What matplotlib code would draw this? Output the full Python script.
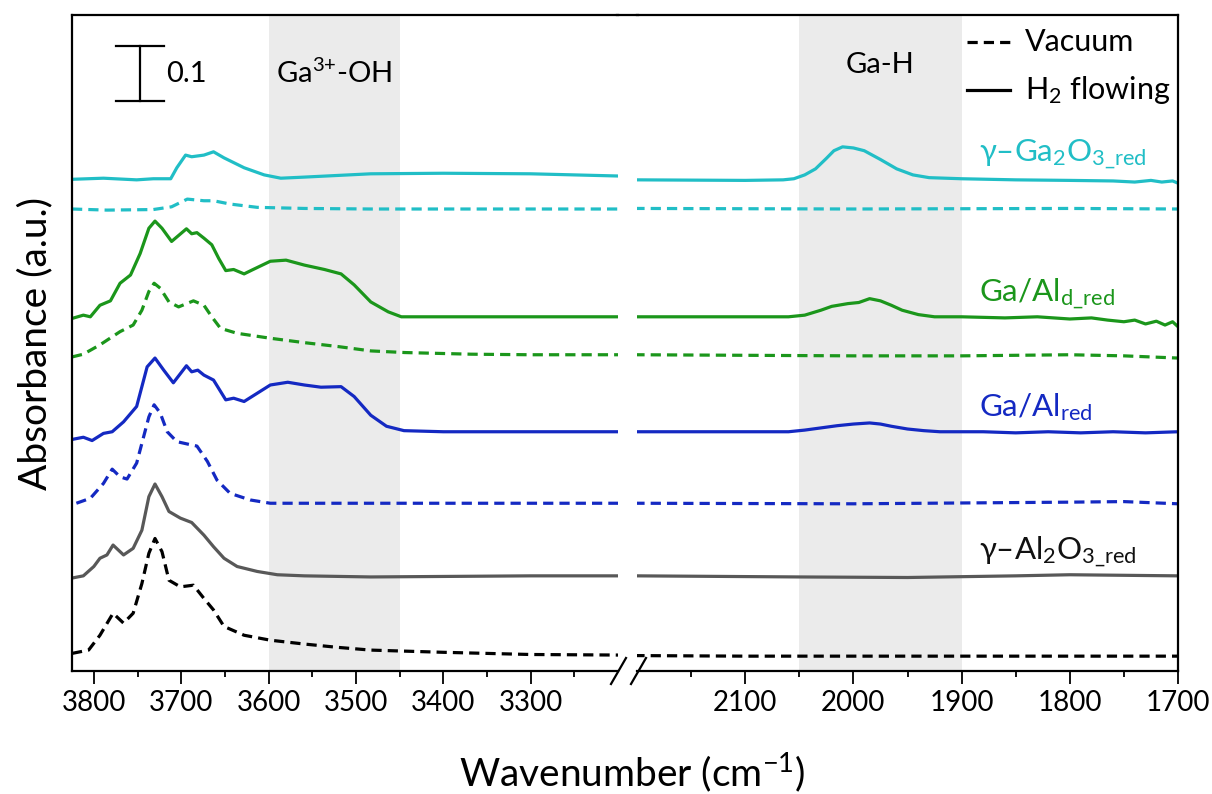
import matplotlib
matplotlib.use("Agg")
import matplotlib.pyplot as plt
from matplotlib.lines import Line2D

plt.rcParams['font.family'] = ['Lato', 'DejaVu Sans']
plt.rcParams['mathtext.fontset'] = 'custom'
plt.rcParams['mathtext.rm'] = 'Lato'
plt.rcParams['mathtext.it'] = 'Lato:italic'

# ---- spectra (wavenumber in cm-1, stacked absorbance in a.u.) ----
al2o3_vac_wn = [3825, 3806, 3793, 3778, 3766, 3755, 3745, 3737, 3730, 3722, 3714, 3701, 3686, 3674,
                3663, 3651, 3628, 3598, 3559, 3521, 3483, 3400, 3300, 3200,
                2200, 2100, 2000, 1900, 1800, 1700]
al2o3_vac_a = [0.032, 0.038, 0.065, 0.105, 0.087, 0.105, 0.159, 0.214, 0.241, 0.217, 0.165, 0.153, 0.156,
               0.132, 0.111, 0.081, 0.065, 0.056, 0.049, 0.043, 0.038, 0.034, 0.030, 0.029,
               0.028, 0.027, 0.027, 0.027, 0.027, 0.027]

al2o3_h2_wn = [3825, 3812, 3800, 3793, 3785, 3778, 3766, 3755, 3745, 3737, 3730, 3722, 3714, 3701,
               3688, 3674, 3663, 3651, 3636, 3613, 3590, 3559, 3483, 3300, 3200,
               2200, 2050, 1950, 1850, 1800, 1750, 1700]
al2o3_h2_a = [0.169, 0.173, 0.190, 0.205, 0.211, 0.229, 0.211, 0.223, 0.256, 0.317, 0.340, 0.317, 0.290,
              0.278, 0.270, 0.247, 0.226, 0.205, 0.190, 0.181, 0.175, 0.173, 0.171, 0.173, 0.173,
              0.173, 0.171, 0.170, 0.173, 0.175, 0.174, 0.173]

gaal_vac_wn = [3820, 3804, 3789, 3779, 3770, 3762, 3751, 3743, 3737, 3731, 3724, 3716, 3705, 3691,
               3682, 3670, 3659, 3644, 3621, 3598, 3500, 3400, 3200,
               2200, 2000, 1800, 1750, 1700]
gaal_vac_a = [0.305, 0.314, 0.341, 0.367, 0.353, 0.349, 0.378, 0.426, 0.462, 0.484, 0.469, 0.435, 0.417,
              0.412, 0.409, 0.381, 0.347, 0.323, 0.311, 0.305, 0.305, 0.305, 0.305,
              0.305, 0.304, 0.307, 0.308, 0.304]

gaal_h2_wn = [3825, 3812, 3802, 3789, 3779, 3766, 3751, 3739, 3730, 3720, 3709, 3694, 3688, 3681,
              3674, 3663, 3649, 3640, 3628, 3619, 3598, 3578, 3559, 3540, 3517, 3502, 3483, 3465,
              3445, 3400, 3300, 3200,
              2200, 2100, 2060, 2045, 2030, 2015, 2000, 1985, 1975, 1965, 1950, 1935, 1920, 1880,
              1850, 1820, 1790, 1760, 1730, 1700]
gaal_h2_a = [0.421, 0.425, 0.419, 0.432, 0.435, 0.453, 0.481, 0.553, 0.569, 0.547, 0.524, 0.555, 0.544,
             0.547, 0.538, 0.529, 0.493, 0.496, 0.490, 0.499, 0.520, 0.525, 0.520, 0.516, 0.517, 0.499,
             0.465, 0.445, 0.437, 0.435, 0.435, 0.435,
             0.435, 0.435, 0.435, 0.438, 0.442, 0.446, 0.449, 0.451, 0.449, 0.445, 0.440, 0.437,
             0.435, 0.435, 0.433, 0.435, 0.433, 0.435, 0.433, 0.435]

gaald_vac_wn = [3825, 3812, 3793, 3770, 3755, 3745, 3737, 3731, 3724, 3714, 3703, 3686, 3674, 3665,
                3655, 3636, 3598, 3559, 3521, 3483, 3444, 3368, 3300, 3200,
                2200, 2100, 2000, 1900, 1800, 1750, 1700]
gaald_vac_a = [0.571, 0.576, 0.593, 0.617, 0.629, 0.656, 0.690, 0.705, 0.696, 0.671, 0.662, 0.673,
               0.665, 0.644, 0.623, 0.614, 0.605, 0.597, 0.590, 0.582, 0.579, 0.576, 0.575, 0.575,
               0.575, 0.574, 0.573, 0.573, 0.575, 0.573, 0.569]

gaald_h2_wn = [3825, 3812, 3804, 3793, 3781, 3770, 3758, 3747, 3737, 3730, 3722, 3711, 3694, 3688,
               3682, 3674, 3665, 3657, 3649, 3640, 3628, 3619, 3598, 3580, 3559, 3536, 3517, 3502,
               3483, 3463, 3448, 3400, 3300, 3200,
               2200, 2100, 2060, 2045, 2030, 2020, 2005, 1995, 1985, 1975, 1965, 1955, 1940, 1925,
               1900, 1860, 1830, 1800, 1780, 1765, 1750, 1740, 1730, 1720, 1712, 1705, 1700]
gaald_h2_a = [0.641, 0.647, 0.644, 0.665, 0.673, 0.705, 0.720, 0.759, 0.805, 0.818, 0.805, 0.781,
              0.804, 0.795, 0.797, 0.787, 0.775, 0.750, 0.728, 0.730, 0.722, 0.729, 0.745, 0.747,
              0.738, 0.730, 0.722, 0.702, 0.671, 0.653, 0.644, 0.644, 0.644, 0.644,
              0.644, 0.644, 0.644, 0.647, 0.656, 0.663, 0.668, 0.670, 0.677, 0.673, 0.665, 0.656,
              0.648, 0.644, 0.644, 0.642, 0.644, 0.640, 0.642, 0.638, 0.635, 0.638, 0.631, 0.636,
              0.629, 0.635, 0.626]

ga2o3_vac_wn = [3825, 3785, 3732, 3711, 3693, 3674, 3663, 3644, 3613, 3559, 3483, 3200,
                2200, 2000, 1800, 1700]
ga2o3_vac_a = [0.840, 0.838, 0.839, 0.844, 0.858, 0.855, 0.855, 0.849, 0.843, 0.841, 0.840, 0.840,
               0.841, 0.840, 0.841, 0.840]

ga2o3_h2_wn = [3825, 3789, 3751, 3732, 3712, 3705, 3695, 3688, 3674, 3663, 3651, 3628, 3605, 3586,
               3559, 3521, 3483, 3400, 3300, 3250, 3200,
               2200, 2100, 2065, 2055, 2045, 2035, 2025, 2018, 2010, 2000, 1990, 1975, 1960, 1945,
               1930, 1900, 1850, 1800, 1760, 1740, 1725, 1715, 1705, 1700]
ga2o3_h2_a = [0.894, 0.896, 0.893, 0.895, 0.895, 0.915, 0.938, 0.935, 0.938, 0.944, 0.933, 0.915,
              0.902, 0.896, 0.898, 0.901, 0.904, 0.905, 0.904, 0.902, 0.900,
              0.893, 0.892, 0.893, 0.895, 0.902, 0.913, 0.932, 0.946, 0.953, 0.951, 0.946, 0.930,
              0.913, 0.902, 0.897, 0.895, 0.893, 0.892, 0.891, 0.889, 0.892, 0.889, 0.891, 0.887]

ticks_left = [3800, 3700, 3600, 3500, 3400, 3300]
ticks_right = [2100, 2000, 1900, 1800, 1700]
oh_band = (3600, 3450)
gah_band = (2050, 1900)

C_CYAN = '#21BEC6'
C_GREEN = '#1B961B'
C_BLUE = '#1429C2'
C_GRAY = '#585858'
C_BLACK = '#000000'
SHADE = '#EBEBEB'
DASH = (0, (3.2, 1.9))
LW = 2.3

W, H = 1212, 794
fig = plt.figure(figsize=(W / 100, H / 100), dpi=100)


def box(x0, x1, ytop, ybot):
    return [x0 / W, 1 - ybot / H, (x1 - x0) / W, (ybot - ytop) / H]


axL = fig.add_axes(box(72, 618, 15, 671))
axR = fig.add_axes(box(637, 1178, 15, 671))

series = [
    (al2o3_vac_wn, al2o3_vac_a, C_BLACK, DASH),
    (al2o3_h2_wn, al2o3_h2_a, C_GRAY, '-'),
    (gaal_vac_wn, gaal_vac_a, C_BLUE, DASH),
    (gaal_h2_wn, gaal_h2_a, C_BLUE, '-'),
    (gaald_vac_wn, gaald_vac_a, C_GREEN, DASH),
    (gaald_h2_wn, gaald_h2_a, C_GREEN, '-'),
    (ga2o3_vac_wn, ga2o3_vac_a, C_CYAN, DASH),
    (ga2o3_h2_wn, ga2o3_h2_a, C_CYAN, '-'),
]

YMAX = 656 / 550
for ax, lim, band in ((axL, (3825, 3200), oh_band), (axR, (2200, 1700), gah_band)):
    ax.axvspan(band[0], band[1], color=SHADE, lw=0, zorder=0)
    for wn, a, col, ls in series:
        ax.plot(wn, a, color=col, ls=ls, lw=LW, zorder=2, solid_joinstyle='round')
    ax.set_xlim(*lim)
    ax.set_ylim(0, YMAX)
    ax.set_yticks([])
    for sp in ax.spines.values():
        sp.set_linewidth(1.6)
    ax.tick_params(axis='x', which='major', direction='out', length=9, width=1.3,
                   labelsize=20, pad=5)
    ax.tick_params(axis='x', which='minor', direction='out', length=4.5, width=1.3)

axL.spines['right'].set_visible(False)
axR.spines['left'].set_visible(False)
axL.set_xticks(ticks_left)
axL.set_xticks([3750, 3650, 3550, 3450, 3350, 3250], minor=True)
axR.set_xticks(ticks_right)
axR.set_xticks([2150, 2050, 1950, 1850, 1750], minor=True)

# continuous top frame across the break, and the // marks on the bottom axis
fig.add_artist(Line2D([617 / W, 638 / W], [1 - 15 / H] * 2, color='k', lw=1.6))
for x0 in (611, 631):
    fig.add_artist(Line2D([x0 / W, (x0 + 15) / W], [1 - 684 / H, 1 - 658 / H], color='k', lw=1.6))

# scale bar for 0.1 a.u.
axL.plot([3747, 3747], [1.036, 1.136], color='k', lw=1.6)
axL.plot([3775, 3720], [1.036, 1.036], color='k', lw=1.6)
axL.plot([3775, 3720], [1.136, 1.136], color='k', lw=1.6)
axL.text(3717, 1.086, '0.1', fontsize=21, va='center', ha='left')

axL.text(3525, 1.087, 'Ga$\\mathregular{^{3{+}}}$-OH', fontsize=21, va='center', ha='center')
axR.text(1975, 1.102, 'Ga-H', fontsize=21, va='center', ha='center')

# legend for the two measurement conditions
fig.add_artist(Line2D([967 / W, 1010 / W], [1 - 42 / H] * 2, color='k', lw=LW, ls=DASH))
fig.add_artist(Line2D([967 / W, 1010 / W], [1 - 90 / H] * 2, color='k', lw=LW))
fig.text(1025 / W, 1 - 42 / H, 'Vacuum', fontsize=22, va='center', ha='left')
fig.text(1025 / W, 1 - 90 / H, 'H$\\mathregular{_2}$ flowing', fontsize=22, va='center', ha='left')

# sample labels
lab_x = 1884
axR.text(lab_x, (671 - 162) / 550, 'γ–Ga$\\mathregular{_2}$O$\\mathregular{_{3\\_red}}$',
         color=C_CYAN, fontsize=22.5, va='baseline', ha='left')
axR.text(lab_x, (671 - 302) / 550, 'Ga/Al$\\mathregular{_{d\\_red}}$',
         color=C_GREEN, fontsize=22.5, va='baseline', ha='left')
axR.text(lab_x, (671 - 416) / 550, 'Ga/Al$\\mathregular{_{red}}$',
         color=C_BLUE, fontsize=22.5, va='baseline', ha='left')
axR.text(lab_x, (671 - 560) / 550, 'γ–Al$\\mathregular{_2}$O$\\mathregular{_{3\\_red}}$',
         color='#111111', fontsize=22.5, va='baseline', ha='left')

fig.text(35 / W, 1 - 343 / H, 'Absorbance (a.u.)', rotation=90, fontsize=28, va='center', ha='center')
fig.text(632 / W, 1 - 772 / H, 'Wavenumber (cm$\\mathregular{^{-1}}$)', fontsize=28, va='center', ha='center')

fig.savefig('out.png', dpi=100)
